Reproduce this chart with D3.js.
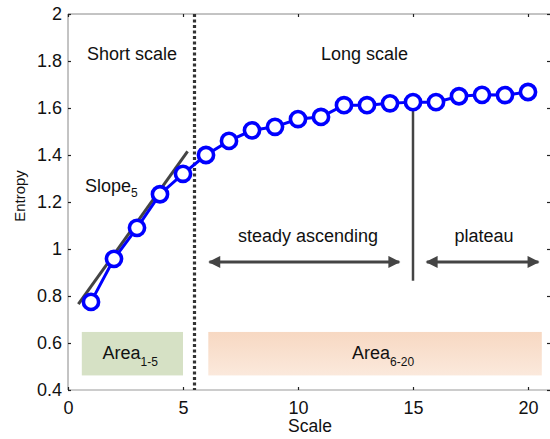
<!DOCTYPE html>
<html>
<head>
<meta charset="utf-8">
<script src="https://cdn.jsdelivr.net/npm/d3@7"></script>
<style>
  body { margin: 0; background: #fff; }
  svg text { font-family: "Liberation Sans", Arial, sans-serif; fill: #111; }
</style>
</head>
<body>
<svg id="chart" width="550" height="439"></svg>
<script>
// data
var scales = [1, 2, 3, 4, 5, 6, 7, 8, 9, 10, 11, 12, 13, 14, 15, 16, 17, 18, 19, 20];
var entropy = [0.775, 0.958, 1.09, 1.233, 1.32, 1.40, 1.46, 1.505, 1.52, 1.553, 1.562, 1.612, 1.612, 1.62, 1.625, 1.625, 1.65, 1.656, 1.655, 1.668];
var xTicks = [0, 5, 10, 15, 20];
var yTicks = [0.4, 0.6, 0.8, 1, 1.2, 1.4, 1.6, 1.8, 2];

var svg = d3.select("#chart");

var x = d3.scaleLinear().domain([0, 21]).range([68, 551]);
var y = d3.scaleLinear().domain([0.4, 2]).range([390, 14]);

var defs = svg.append("defs");
var grad = defs.append("linearGradient").attr("id", "peach")
  .attr("x1", 0).attr("y1", 0).attr("x2", 0).attr("y2", 1);
grad.append("stop").attr("offset", "0%").attr("stop-color", "#f7d8c2");
grad.append("stop").attr("offset", "100%").attr("stop-color", "#fbe9dc");

var arrow = defs.append("marker").attr("id", "head")
  .attr("viewBox", "0 0 10 10").attr("refX", 9).attr("refY", 5)
  .attr("markerWidth", 6).attr("markerHeight", 4)
  .attr("markerUnits", "strokeWidth")
  .attr("orient", "auto-start-reverse");
arrow.append("path").attr("d", "M0,0 L10,5 L0,10 Z").attr("fill", "#444");

// frame
svg.append("line").attr("x1", x(0)).attr("x2", 551).attr("y1", y(2)).attr("y2", y(2))
  .attr("stroke", "#888").attr("stroke-width", 1);
svg.append("line").attr("x1", x(0)).attr("x2", 551).attr("y1", y(0.4)).attr("y2", y(0.4))
  .attr("stroke", "#999").attr("stroke-width", 1);
svg.append("line").attr("x1", x(0)).attr("x2", x(0)).attr("y1", y(2)).attr("y2", y(0.4))
  .attr("stroke", "#888").attr("stroke-width", 1);

// axes (inward ticks, matlab style)
var xAxis = svg.append("g").attr("transform", "translate(0," + y(0.4) + ")")
  .call(d3.axisBottom(x).tickValues(xTicks).tickSizeInner(-3).tickSizeOuter(0).tickPadding(11));
var xTop = svg.append("g").attr("transform", "translate(0," + y(2) + ")")
  .call(d3.axisTop(x).tickValues(xTicks).tickSizeInner(-3).tickSizeOuter(0).tickFormat(""));
var yAxis = svg.append("g").attr("transform", "translate(" + x(0) + ",0)")
  .call(d3.axisLeft(y).tickValues(yTicks).tickSizeInner(-3).tickSizeOuter(0).tickPadding(6)
    .tickFormat(function(d) { return d3.format("")(d); }));
var yRight = svg.append("g").attr("transform", "translate(551,0)")
  .call(d3.axisRight(y).tickValues(yTicks).tickSizeInner(-4).tickSizeOuter(0).tickFormat(""));
[xAxis, xTop, yAxis, yRight].forEach(function(g) {
  g.select(".domain").remove();
  g.selectAll(".tick line").attr("stroke", "#222").attr("stroke-width", 1.2);
  g.selectAll(".tick text").attr("font-size", 18).attr("font-family", "Liberation Sans, Arial, sans-serif").attr("fill", "#111");
});

// area boxes
svg.append("rect").attr("x", x(0.6)).attr("y", y(0.647))
  .attr("width", x(5) - x(0.6)).attr("height", y(0.462) - y(0.647))
  .attr("fill", "#d6e1c5");
svg.append("rect").attr("x", x(6.1)).attr("y", y(0.647))
  .attr("width", x(20.6) - x(6.1)).attr("height", y(0.462) - y(0.647))
  .attr("fill", "url(#peach)");

var a1 = svg.append("text").attr("x", x(1.5)).attr("y", y(0.555) + 5).attr("font-size", 18);
a1.append("tspan").text("Area");
a1.append("tspan").attr("font-size", 12).attr("dy", 7).text("1-5");
var a2 = svg.append("text").attr("x", x(12.35)).attr("y", y(0.555) + 5).attr("font-size", 18);
a2.append("tspan").text("Area");
a2.append("tspan").attr("font-size", 12).attr("dy", 7).text("6-20");

// dotted separator
svg.append("line").attr("x1", x(5.5)).attr("x2", x(5.5)).attr("y1", y(2)).attr("y2", y(0.4))
  .attr("stroke", "#333").attr("stroke-width", 3.2).attr("stroke-dasharray", "3,2.5");

// slope line
svg.append("line").attr("x1", x(0.45)).attr("y1", y(0.765)).attr("x2", x(5.2)).attr("y2", y(1.415))
  .attr("stroke", "#444").attr("stroke-width", 3);

// marker at 15
svg.append("line").attr("x1", x(15)).attr("x2", x(15)).attr("y1", y(1.625)).attr("y2", y(0.865))
  .attr("stroke", "#444").attr("stroke-width", 2.5);

// arrows
svg.append("line").attr("x1", x(6.15)).attr("x2", x(14.4)).attr("y1", y(0.945)).attr("y2", y(0.945))
  .attr("stroke", "#444").attr("stroke-width", 3)
  .attr("marker-start", "url(#head)").attr("marker-end", "url(#head)");
svg.append("line").attr("x1", x(15.6)).attr("x2", x(20.45)).attr("y1", y(0.945)).attr("y2", y(0.945))
  .attr("stroke", "#444").attr("stroke-width", 3)
  .attr("marker-start", "url(#head)").attr("marker-end", "url(#head)");

// series
var pts = scales.map(function(s, i) { return [s, entropy[i]]; });
svg.append("path").datum(pts)
  .attr("d", d3.line().x(function(d) { return x(d[0]); }).y(function(d) { return y(d[1]); }))
  .attr("fill", "none").attr("stroke", "#0000ff").attr("stroke-width", 3);
svg.selectAll("circle.pt").data(pts).enter().append("circle")
  .attr("class", "pt")
  .attr("cx", function(d) { return x(d[0]); })
  .attr("cy", function(d) { return y(d[1]); })
  .attr("r", 7.6).attr("fill", "#fff").attr("stroke", "#0000ff").attr("stroke-width", 3.6);

// labels
svg.append("text").attr("x", 87).attr("y", 60).attr("font-size", 18).text("Short scale");
svg.append("text").attr("x", 321).attr("y", 60).attr("font-size", 18).text("Long scale");
var sl = svg.append("text").attr("x", 85).attr("y", 192).attr("font-size", 18);
sl.append("tspan").text("Slope");
sl.append("tspan").attr("font-size", 12).attr("dy", 5).text("5");
svg.append("text").attr("x", 308).attr("y", 242).attr("font-size", 18).attr("text-anchor", "middle").text("steady ascending");
svg.append("text").attr("x", 484).attr("y", 242).attr("font-size", 18).attr("text-anchor", "middle").text("plateau");
svg.append("text").attr("x", 310).attr("y", 432).attr("font-size", 17.5).attr("text-anchor", "middle").text("Scale");
svg.append("text").attr("transform", "translate(25,196) rotate(-90)")
  .attr("font-size", 15).attr("text-anchor", "middle").text("Entropy");
</script>
</body>
</html>
